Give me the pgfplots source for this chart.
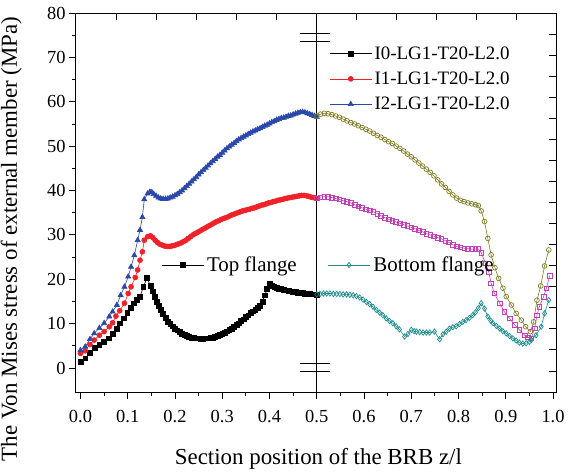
\documentclass[border=0pt]{standalone}
\usepackage{fontspec}
\setmainfont{Liberation Serif}
\usepackage{pgfplots}
\pgfplotsset{compat=1.18}

\definecolor{cI0}{RGB}{0,0,0}
\definecolor{cI1}{RGB}{238,34,40}
\definecolor{cI2}{RGB}{42,72,168}
\definecolor{cOl}{RGB}{128,124,36}
\definecolor{cMg}{RGB}{196,64,184}
\definecolor{cTl}{RGB}{28,140,140}

\pgfplotsset{
  lgline/.style={legend image code/.code={
    \draw[mark repeat=2,mark phase=2,##1] plot coordinates {(0bp,0bp) (21bp,0bp) (42bp,0bp)};}},
}

\begin{document}
\begin{tikzpicture}
\begin{axis}[
  scale only axis,
  width=480bp, height=379bp,
  xmin=-0.0095, xmax=1.0063,
  ymin=-5.4, ymax=80,
  xtick={0,0.1,...,1.0},
  xticklabels={0.0,0.1,0.2,0.3,0.4,0.5,0.6,0.7,0.8,0.9,1.0},
  ytick={0,10,...,80},
  minor x tick num=1,
  minor y tick num=1,
  xtick pos=left, ytick pos=left,
  tick align=outside,
  major tick length=7bp, minor tick length=4bp,
  every tick/.style={black, line width=0.8bp},
  axis line style={line width=1bp},
  /pgf/number format/assume math mode=true,
  tick label style={font=\rmfamily\fontsize{18.5}{21}\selectfont},
  xticklabel style={yshift=-8bp},
  xlabel={Section position of the BRB z/l},
  ylabel={The Von Mises stress of external member (MPa)},
  label style={font=\rmfamily\fontsize{23}{26}\selectfont},
  xlabel style={at={(axis description cs:0.505,-0.177)}, anchor=center},
  ylabel style={at={(axis description cs:-0.135,0.404)}, anchor=center, rotate=0},
  legend style={draw=none, fill=none, at={(axis description cs:0.528,0.918)}, anchor=north west,
    font=\rmfamily\fontsize{19}{22}\selectfont, row sep=6.2bp, inner sep=0pt, outer sep=0pt,
    nodes={inner sep=2.5pt}},
  lgline,
]
% top flange (filled markers)
\addplot[cI0, line width=0.6bp, mark=square*, mark size=2.4bp] table {
0.000 1.4
0.010 2.2
0.020 3.4
0.030 4.6
0.040 5.2
0.050 5.9
0.060 6.7
0.068 7.8
0.076 8.9
0.084 10.1
0.092 11.2
0.099 12.5
0.106 13.6
0.113 14.6
0.119 15.3
0.126 16.0
0.133 18.3
0.141 20.3
0.148 18.5
0.153 17.3
0.157 16.1
0.161 15.0
0.165 14.0
0.170 13.1
0.175 12.3
0.180 11.3
0.185 10.5
0.190 9.9
0.195 9.4
0.200 8.9
0.205 8.5
0.210 8.2
0.215 7.8
0.220 7.5
0.225 7.2
0.230 7.0
0.235 6.9
0.240 6.8
0.245 6.7
0.250 6.7
0.255 6.6
0.260 6.6
0.265 6.7
0.270 6.7
0.275 6.8
0.280 6.9
0.285 7.1
0.290 7.3
0.295 7.5
0.300 7.7
0.305 8.0
0.310 8.3
0.315 8.6
0.320 8.9
0.325 9.3
0.330 9.7
0.335 10.1
0.340 10.6
0.345 11.0
0.350 11.5
0.355 11.9
0.360 12.4
0.365 12.8
0.370 13.2
0.375 13.6
0.380 14.1
0.385 15.0
0.390 16.4
0.395 17.8
0.400 19.0
0.405 18.6
0.410 18.3
0.415 18.1
0.420 17.9
0.425 17.8
0.430 17.6
0.435 17.5
0.440 17.4
0.445 17.3
0.450 17.2
0.455 17.1
0.460 17.0
0.465 16.9
0.470 16.9
0.475 16.8
0.480 16.7
0.485 16.7
0.490 16.6
0.495 16.6
0.500 16.5
};
\addlegendentry{I0-LG1-T20-L2.0}
\addplot[cI1, line width=0.6bp, mark=*, mark size=2.5bp] table {
0.000 3.3
0.010 3.9
0.020 5.3
0.029 6.3
0.040 7.4
0.050 8.2
0.061 9.3
0.068 10.2
0.075 11.7
0.083 12.9
0.093 14.6
0.101 16.8
0.107 18.3
0.116 20.4
0.121 22.1
0.126 24.3
0.131 26.2
0.135 28.8
0.142 29.6
0.148 29.8
0.153 29.4
0.158 28.8
0.163 28.3
0.168 27.9
0.173 27.7
0.178 27.5
0.183 27.4
0.188 27.4
0.193 27.5
0.198 27.6
0.203 27.8
0.208 28.0
0.213 28.2
0.218 28.5
0.223 28.8
0.228 29.2
0.233 29.6
0.238 30.0
0.243 30.3
0.248 30.6
0.253 30.9
0.258 31.2
0.263 31.5
0.268 31.8
0.273 32.1
0.278 32.4
0.283 32.7
0.288 33.0
0.293 33.2
0.298 33.5
0.303 33.7
0.308 33.9
0.313 34.1
0.318 34.4
0.323 34.6
0.328 34.8
0.333 35.0
0.338 35.2
0.343 35.4
0.348 35.5
0.353 35.7
0.358 35.8
0.363 36.0
0.368 36.1
0.373 36.3
0.378 36.5
0.383 36.7
0.388 36.8
0.393 37.0
0.398 37.2
0.403 37.3
0.408 37.5
0.413 37.6
0.418 37.8
0.423 37.9
0.428 38.0
0.433 38.2
0.438 38.3
0.443 38.4
0.448 38.5
0.453 38.6
0.458 38.7
0.463 38.8
0.468 38.9
0.473 38.9
0.478 38.8
0.483 38.7
0.488 38.5
0.493 38.4
0.498 38.3
};
\addlegendentry{I1-LG1-T20-L2.0}
\addplot[cI2, line width=0.6bp, mark=triangle*, mark size=3bp] table {
0.000 4.0
0.010 4.8
0.020 6.5
0.029 7.8
0.040 9.0
0.050 10.1
0.061 11.6
0.068 12.7
0.077 14.2
0.085 16.4
0.093 18.3
0.101 20.6
0.107 22.8
0.114 25.4
0.121 28.8
0.126 31.1
0.131 34.0
0.135 38.0
0.142 39.3
0.147 39.7
0.151 39.6
0.155 39.2
0.160 38.8
0.165 38.4
0.170 38.2
0.175 38.1
0.180 38.1
0.185 38.2
0.190 38.4
0.195 38.6
0.200 38.9
0.205 39.2
0.210 39.6
0.215 40.0
0.220 40.5
0.225 41.0
0.230 41.5
0.235 42.0
0.240 42.5
0.245 43.0
0.250 43.6
0.255 44.1
0.260 44.6
0.265 45.1
0.270 45.6
0.275 46.1
0.280 46.6
0.285 47.1
0.290 47.6
0.295 48.0
0.300 48.5
0.305 49.0
0.310 49.5
0.315 49.9
0.320 50.3
0.325 50.7
0.330 51.1
0.335 51.5
0.340 51.8
0.345 52.1
0.350 52.4
0.355 52.7
0.360 53.0
0.365 53.3
0.370 53.5
0.375 53.8
0.380 54.0
0.385 54.3
0.390 54.6
0.395 54.8
0.400 55.1
0.405 55.4
0.410 55.6
0.415 55.9
0.420 56.1
0.425 56.3
0.430 56.4
0.435 56.6
0.440 56.8
0.445 56.9
0.450 57.1
0.455 57.3
0.460 57.5
0.465 57.6
0.470 57.7
0.475 57.6
0.480 57.4
0.485 57.2
0.490 57.0
0.495 56.8
0.500 56.6
};
\addlegendentry{I2-LG1-T20-L2.0}
% bottom flange (open markers)
\addplot[cOl, line width=0.6bp, mark=o, mark size=2.4bp, mark options={line width=0.7bp}, forget plot] table {
0.500 56.8
0.508 57.2
0.516 57.4
0.524 57.3
0.532 57.1
0.540 56.8
0.548 56.5
0.556 56.1
0.564 55.7
0.572 55.3
0.580 55.0
0.588 54.6
0.596 54.2
0.604 53.8
0.612 53.4
0.620 52.9
0.628 52.4
0.636 52.0
0.644 51.5
0.652 51.0
0.660 50.6
0.668 50.0
0.676 49.5
0.684 48.9
0.692 48.2
0.700 47.6
0.708 46.9
0.716 46.2
0.724 45.5
0.732 44.8
0.740 44.1
0.748 43.3
0.756 42.4
0.764 41.5
0.772 40.7
0.780 39.8
0.788 39.0
0.796 38.3
0.804 37.8
0.812 37.5
0.820 37.2
0.828 37.0
0.836 36.8
0.842 36.6
0.848 35.4
0.855 33.0
0.862 29.2
0.869 25.5
0.877 22.6
0.885 20.2
0.894 18.0
0.901 16.1
0.912 14.2
0.922 12.3
0.933 10.8
0.942 9.3
0.952 8.2
0.959 10.4
0.966 15.3
0.974 18.5
0.982 23.0
0.991 26.6
};
\addplot[cMg, line width=0.6bp, mark=square, mark size=2.3bp, mark options={line width=0.7bp}, forget plot] table {
0.500 38.2
0.508 38.5
0.516 38.6
0.524 38.6
0.532 38.4
0.540 38.2
0.548 38.0
0.556 37.7
0.564 37.5
0.572 37.2
0.580 36.8
0.588 36.4
0.596 36.1
0.604 35.8
0.612 35.5
0.620 35.2
0.628 34.8
0.636 34.3
0.644 33.9
0.652 33.5
0.660 33.2
0.668 32.9
0.676 32.6
0.684 32.3
0.692 32.0
0.700 31.7
0.708 31.4
0.716 31.0
0.724 30.7
0.732 30.3
0.740 30.0
0.748 29.7
0.756 29.4
0.764 29.1
0.772 28.7
0.780 28.3
0.788 27.8
0.796 27.4
0.804 27.2
0.812 27.0
0.820 26.9
0.828 26.8
0.836 26.8
0.842 26.8
0.848 26.0
0.857 23.6
0.864 21.7
0.869 19.1
0.876 16.8
0.887 14.6
0.897 12.7
0.908 11.2
0.919 9.7
0.929 8.6
0.940 7.4
0.947 6.9
0.954 6.7
0.961 8.9
0.966 11.9
0.971 13.8
0.980 16.1
0.986 18.0
0.993 20.8
};
\addplot[cTl, line width=0.6bp, mark=diamond, mark size=2.7bp, mark options={line width=0.7bp}, forget plot] table {
0.500 16.6
0.507 16.7
0.514 16.8
0.521 16.8
0.528 16.8
0.535 16.7
0.542 16.7
0.549 16.7
0.556 16.6
0.563 16.6
0.570 16.5
0.577 16.4
0.584 16.2
0.591 15.9
0.598 15.4
0.605 14.9
0.612 14.4
0.619 13.8
0.626 13.1
0.633 12.5
0.640 11.9
0.647 11.2
0.654 10.6
0.661 10.1
0.668 9.4
0.675 8.7
0.686 7.1
0.693 7.7
0.700 8.6
0.706 8.3
0.711 8.2
0.718 8.1
0.725 8.0
0.732 8.0
0.739 8.0
0.749 8.2
0.760 6.5
0.767 7.6
0.774 8.2
0.781 8.9
0.788 9.2
0.795 9.4
0.802 9.9
0.809 10.4
0.816 10.8
0.823 11.3
0.830 11.9
0.836 12.6
0.842 13.5
0.848 14.6
0.855 13.4
0.862 11.6
0.868 10.7
0.873 10.1
0.880 9.5
0.887 8.9
0.894 8.3
0.901 7.8
0.908 7.2
0.915 6.7
0.922 6.2
0.929 5.7
0.936 5.5
0.943 5.6
0.950 5.9
0.954 6.3
0.964 7.4
0.975 9.3
0.982 12.3
0.991 15.3
};
% divider at mid-length with break marks
\draw[line width=1bp] (axis cs:0.5,-5.4) -- (axis cs:0.5,80);
\draw[line width=1bp] (axis cs:0.465,75.4) -- (axis cs:0.528,75.4);
\draw[line width=1bp] (axis cs:0.465,73.5) -- (axis cs:0.528,73.5);
\draw[line width=1bp] (axis cs:0.465,1.0) -- (axis cs:0.528,1.0);
\draw[line width=1bp] (axis cs:0.465,-0.8) -- (axis cs:0.528,-0.8);
\end{axis}
% mirrored inward ticks on top and right, plus flange key
\begin{axis}[
  scale only axis,
  width=480bp, height=379bp,
  xmin=0, xmax=12, ymin=0, ymax=18,
  xtick={1,...,11}, ytick={1,...,17},
  xticklabels={}, yticklabels={},
  xtick pos=right, ytick pos=right,
  tick align=inside,
  major tick length=7bp,
  every tick/.style={black, line width=0.8bp},
  axis line style={draw=none},
  legend style={draw=none, fill=none, at={(axis description cs:0.178,0.335)}, anchor=west,
    font=\rmfamily\fontsize{21}{24}\selectfont, inner sep=0pt, outer sep=0pt,
    nodes={inner sep=3pt},
    /tikz/every even column/.append style={column sep=28bp}},
  legend columns=2,
  legend cell align=left,
  lgline,
]
\addlegendimage{black, line width=0.6bp, mark=square*, mark size=2.4bp}
\addlegendentry{Top flange}
\addlegendimage{cTl, line width=0.6bp, mark=diamond, mark size=2.7bp, mark options={line width=0.7bp}}
\addlegendentry{Bottom flange}
\end{axis}
\pgfresetboundingbox
\useasboundingbox ([xshift=-76bp,yshift=-80bp]current axis.south west) rectangle ([xshift=15bp,yshift=13bp]current axis.north east);
\end{tikzpicture}
\end{document}
